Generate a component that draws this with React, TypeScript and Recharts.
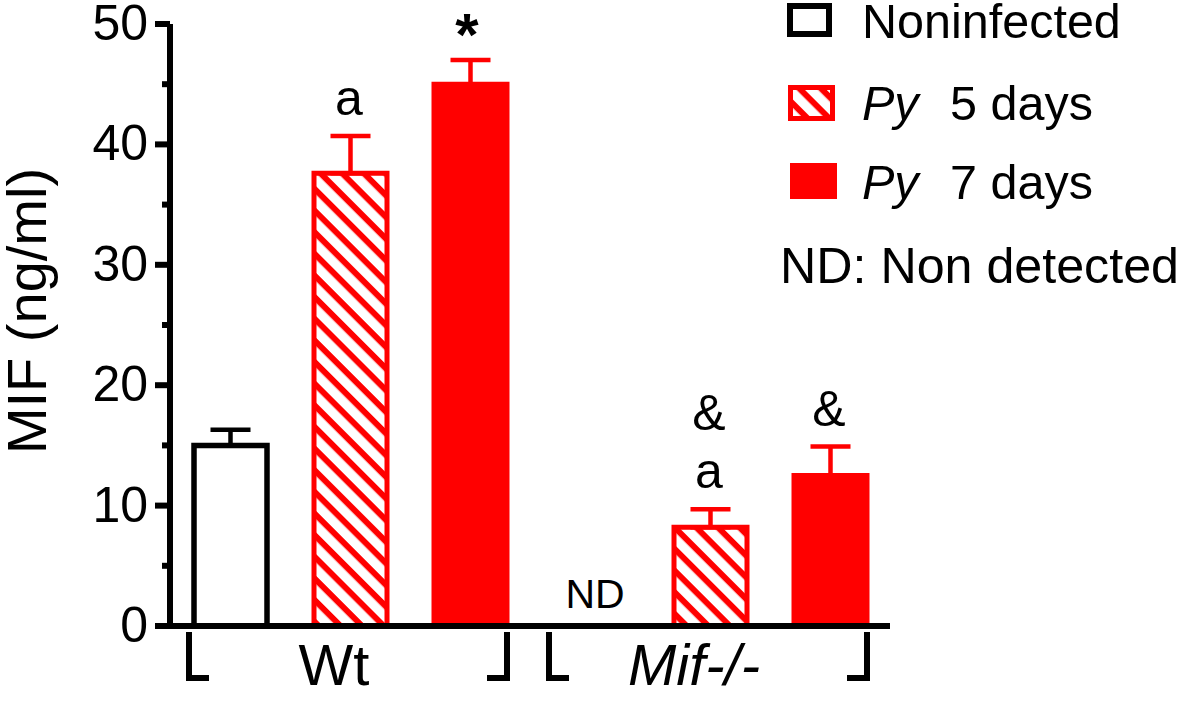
import React from 'react';
import { BarChart, Bar, XAxis, YAxis, ErrorBar, ReferenceDot, Legend } from 'recharts';

// one slot per bar, grouped by genotype
const categories = ['wt-ni', 'wt-py5', 'wt-py7', 'ko-ni', 'ko-py5', 'ko-py7'];
const genotype = ['Wt', 'Wt', 'Wt', 'Mif-/-', 'Mif-/-', 'Mif-/-'];

// MIF (ng/ml), mean and SEM
const noninfected = [15.0, null, null, null, null, null];
const noninfectedSem = [1.3, null, null, null, null, null];
const py5 = [null, 37.6, null, null, 8.2, null];
const py5Sem = [null, 3.1, null, null, 1.5, null];
const py7 = [null, null, 45.0, null, null, 12.5];
const py7Sem = [null, null, 2.0, null, null, 2.4];

// significance marks above each bar (top to bottom), ND = not detected
const marks = [[], ['a'], ['*'], [], ['&', 'a'], ['&']];
const notDetected = [false, false, false, true, false, false];

const yTicks = [0, 5, 10, 15, 20, 25, 30, 35, 40, 45, 50];
const legendLabels = ['Noninfected', '5 days', '7 days'];
const ndNote = 'ND: Non detected';

const RED = '#ff0000';
const FONT = '"Liberation Sans", Arial, sans-serif';
const AXIS_W = 6;

const upOnly = (v: number | null) => (v == null ? null : [0, v]);

const rows = categories.map((cat, i) => ({
  cat,
  genotype: genotype[i],
  ni: noninfected[i],
  niErr: upOnly(noninfectedSem[i]),
  py5: py5[i],
  py5Err: upOnly(py5Sem[i]),
  py7: py7[i],
  py7Err: upOnly(py7Sem[i]),
}));

const topOf = (i: number) => {
  const pairs: Array<[number | null, number | null]> = [
    [noninfected[i], noninfectedSem[i]],
    [py5[i], py5Sem[i]],
    [py7[i], py7Sem[i]],
  ];
  for (const [m, s] of pairs) {
    if (m != null) return m + (s ?? 0);
  }
  return 0;
};

const YTick = ({ x, y, payload }: any) => {
  const major = payload.value % 10 === 0;
  return (
    <g>
      <line x1={x - (major ? 15 : 8)} x2={x} y1={y} y2={y} stroke="#000" strokeWidth={AXIS_W} />
      {major && (
        <text x={x - 22} y={y + 16} textAnchor="end" fontSize={50} fill="#000">
          {payload.value}
        </text>
      )}
    </g>
  );
};

const GroupTick = ({ x, y, payload }: any) => {
  const left = x - 161;
  const right = x + 157;
  const italic = payload.value !== 'Wt';
  return (
    <g>
      <path d={`M${left + 20},${y + 52} H${left} V${y + 6}`} fill="none" stroke="#000" strokeWidth={AXIS_W} />
      <path d={`M${right - 20},${y + 52} H${right} V${y + 6}`} fill="none" stroke="#000" strokeWidth={AXIS_W} />
      <text x={x - 16} y={y + 59} textAnchor="middle" fontSize={58} fontStyle={italic ? 'italic' : 'normal'} fill="#000">
        {payload.value}
      </text>
    </g>
  );
};

const MarkLabel = ({ viewBox, lines }: any) => {
  const cx = viewBox.x + (viewBox.width || 0) / 2;
  const cy = viewBox.y + (viewBox.height || 0) / 2;
  const bottomUp = [...lines].reverse();
  return (
    <g>
      {bottomUp.map((t: string, k: number) =>
        t === '*' ? (
          <text key={k} x={cx - 3} y={cy - 5} textAnchor="middle" fontSize={60} fontWeight="bold" fill="#000">
            {t}
          </text>
        ) : (
          <text key={k} x={cx - 1} y={cy - 21 - k * 58} textAnchor="middle" fontSize={50} fill="#000">
            {t}
          </text>
        )
      )}
    </g>
  );
};

const NdLabel = ({ viewBox }: any) => (
  <text x={viewBox.x + 5} y={viewBox.y - 18} textAnchor="middle" fontSize={41} fill="#000">
    ND
  </text>
);

const renderLegend = () => (
  <svg width={401} height={300} style={{ display: 'block', overflow: 'visible', fontFamily: FONT }}>
    <rect x={10} y={6} width={39} height={28} fill="#fff" stroke="#000" strokeWidth={6} />
    <text x={82} y={38} fontSize={48.5} fill="#000">{legendLabels[0]}</text>

    <rect x={10.5} y={87.5} width={42} height={31} fill="url(#hatch)" stroke={RED} strokeWidth={5} />
    <text y={120} fontSize={48.5} fill="#000">
      <tspan x={82} fontStyle="italic">Py</tspan>
      <tspan x={170}>{legendLabels[1]}</tspan>
    </text>

    <rect x={10} y={163} width={47} height={36} fill={RED} />
    <text y={199} fontSize={48.5} fill="#000">
      <tspan x={82} fontStyle="italic">Py</tspan>
      <tspan x={170}>{legendLabels[2]}</tspan>
    </text>

    <text x={0} y={283} fontSize={50} fill="#000" textLength={399} lengthAdjust="spacingAndGlyphs">{ndNote}</text>
  </svg>
);

export default function App() {
  return (
    <div style={{ position: 'absolute', left: 0, top: 0, fontFamily: FONT, background: '#fff' }}>
      <BarChart width={1181} height={716} data={rows} margin={{ top: 24, right: 291, bottom: 0, left: 0 }}>
        <defs>
          <pattern id="hatch" patternUnits="userSpaceOnUse" width={15.3} height={15.3} patternTransform="rotate(45)">
            <rect width={15.3} height={15.3} fill="#fff" />
            <rect width={15.3} height={6} fill={RED} />
          </pattern>
        </defs>

        <Bar dataKey="ni" stackId="s" barSize={73} fill="#fff" stroke="#000" strokeWidth={5.5} isAnimationActive={false}>
          <ErrorBar dataKey="niErr" width={20} stroke="#000" strokeWidth={4.5} />
        </Bar>
        <Bar dataKey="py5" stackId="s" barSize={73} fill="url(#hatch)" stroke={RED} strokeWidth={5} isAnimationActive={false}>
          <ErrorBar dataKey="py5Err" width={20} stroke={RED} strokeWidth={4.5} />
        </Bar>
        <Bar dataKey="py7" stackId="s" barSize={73} fill={RED} stroke={RED} strokeWidth={5} isAnimationActive={false}>
          <ErrorBar dataKey="py7Err" width={20} stroke={RED} strokeWidth={4.5} />
        </Bar>

        <XAxis dataKey="cat" hide height={0} />
        <XAxis
          xAxisId="grp"
          dataKey="genotype"
          allowDuplicatedCategory={false}
          stroke="#000"
          strokeWidth={AXIS_W}
          axisLine={{ stroke: '#000', strokeWidth: AXIS_W }}
          tickLine={false}
          tickSize={0}
          tickMargin={0}
          interval={0}
          height={90}
          tick={<GroupTick />}
        />
        <YAxis
          width={170}
          domain={[0, 50]}
          ticks={yTicks}
          interval={0}
          stroke="#000"
          strokeWidth={AXIS_W}
          tickLine={false}
          tickSize={0}
          tickMargin={0}
          axisLine={{ stroke: '#000', strokeWidth: AXIS_W }}
          tick={<YTick />}
          label={{
            content: ({ viewBox }: any) => {
              const x = viewBox.x + 46;
              const y = viewBox.y + viewBox.height / 2 - 14;
              return (
                <text x={x} y={y} transform={`rotate(-90, ${x}, ${y})`} textAnchor="middle" fontSize={56} fill="#000">
                  MIF (ng/ml)
                </text>
              );
            },
          }}
        />

        {categories.map((cat, i) =>
          marks[i].length ? (
            <ReferenceDot key={cat} x={cat} y={topOf(i)} r={0} stroke="none" label={<MarkLabel lines={marks[i]} />} />
          ) : null
        )}
        {categories.map((cat, i) =>
          notDetected[i] ? (
            <ReferenceDot key={`nd-${cat}`} x={cat} y={0} r={0} stroke="none" label={<NdLabel />} />
          ) : null
        )}

        <Legend
          layout="horizontal"
          verticalAlign="middle"
          align="center"
          wrapperStyle={{ top: 0, left: 780, width: 401, height: 300 }}
          content={renderLegend}
        />
      </BarChart>
    </div>
  );
}
